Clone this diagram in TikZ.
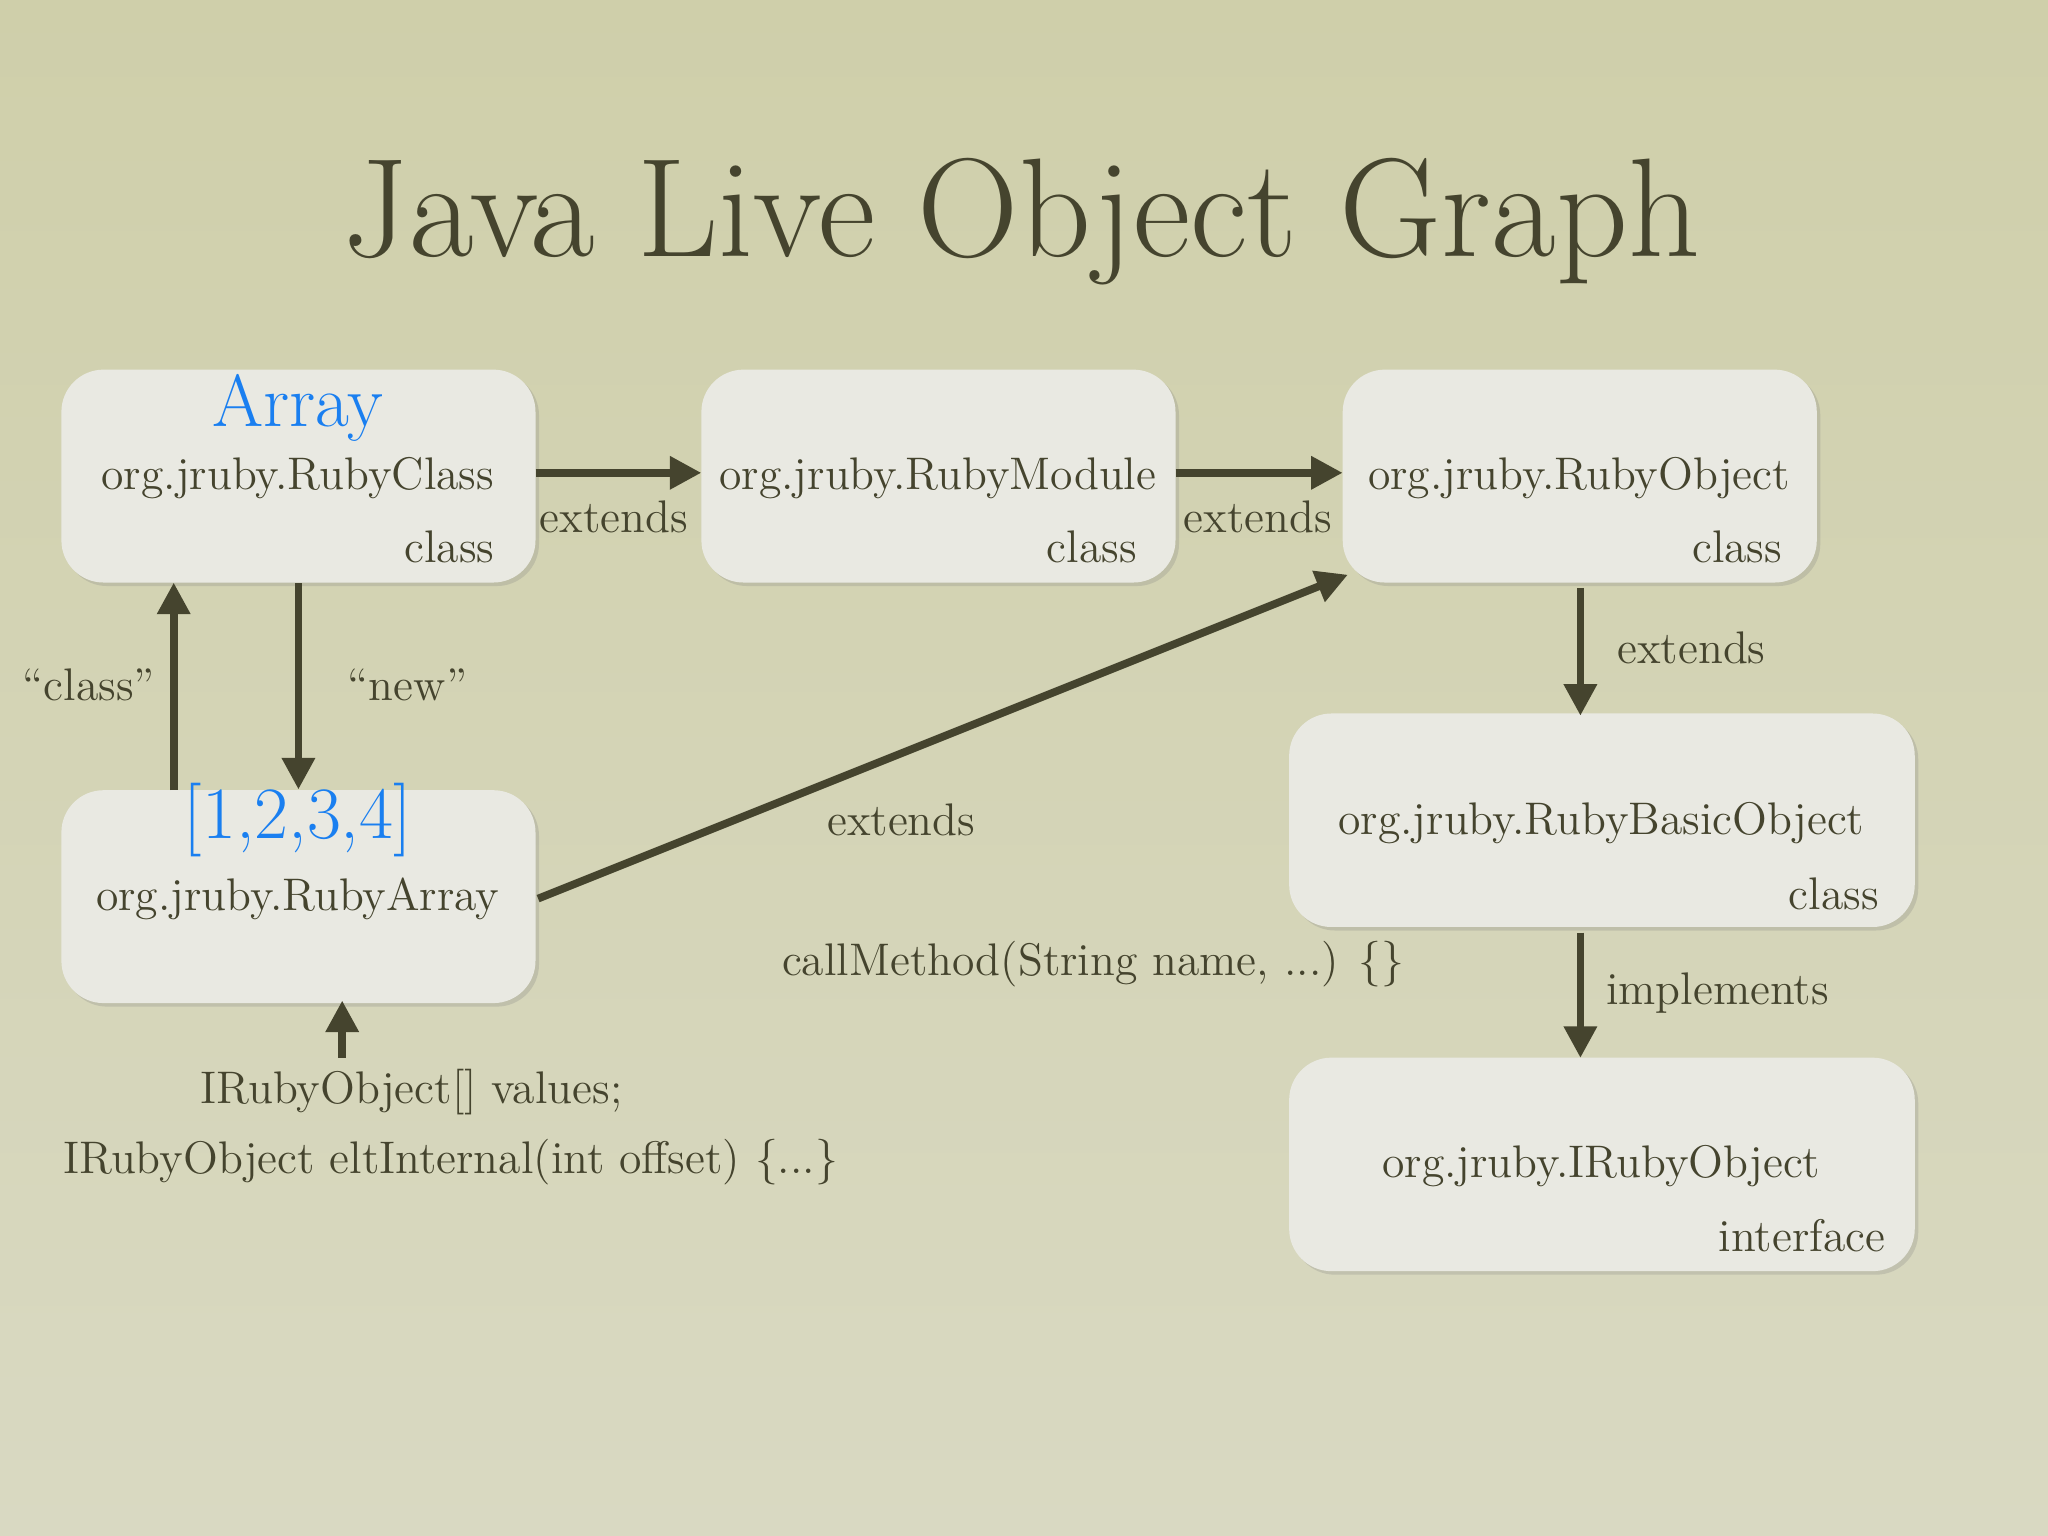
\documentclass[tikz,border=0pt]{standalone}
\usetikzlibrary{arrows.meta,shadows}
\definecolor{ink}{HTML}{45442E}
\definecolor{bgA}{HTML}{CFCFAA}
\definecolor{bgB}{HTML}{D9D9C2}
\definecolor{boxc}{HTML}{E9E9E2}
\definecolor{blu}{HTML}{1A7FF0}
\begin{document}
\begin{tikzpicture}[x=0.013061cm,y=-0.013061cm,
  box/.style={draw=none,fill=boxc,rounded corners=12pt,inner sep=0pt,drop shadow={opacity=0.25,shadow xshift=1pt,shadow yshift=-1pt}},
  sbox/.style={box,minimum width=4.741cm,minimum height=2.129cm},
  wbox/.style={box,minimum width=6.256cm,minimum height=2.135cm},
  txt/.style={text=ink,font=\fontsize{13}{15}\selectfont,inner sep=0pt},
  arr/.style={draw=ink,line width=2.2pt,-{Triangle[length=9pt,width=9pt]}}]
\useasboundingbox (0,0) rectangle (1568,1176);
\shade[top color=bgA,bottom color=bgB] (0,0) rectangle (1568,1176);
\node[txt,font=\fontsize{40}{44}\selectfont] (title) at (782,170) {Java Live Object Graph};
% boxes
\node[sbox] (cls) at (228.5,364.5) {};
\node[sbox] (mod) at (718.5,364.5) {};
\node[sbox] (obj) at (1209.5,364.5) {};
\node[sbox] (ary) at (228.5,686.5) {};
\node[wbox] (bas) at (1226.5,628) {};
\node[wbox] (iro) at (1226.5,891.5) {};
% texts
\node[txt,text=blu,font=\fontsize{21}{24}\selectfont] (t1) at (228,312) {Array};
\node[txt] (t2) at (228,366) {org.jruby.RubyClass};
\node[txt,anchor=east] (t3) at (379,419) {class};
\node[txt] (t4) at (718,366) {org.jruby.RubyModule};
\node[txt,anchor=east] (t5) at (871,419) {class};
\node[txt] (t6) at (1209,366) {org.jruby.RubyObject};
\node[txt,anchor=east] (t7) at (1365,419) {class};
\node[txt,text=blu,font=\fontsize{21}{24}\selectfont] (t8) at (228,628) {[1,2,3,4]};
\node[txt] (t9) at (228,688) {org.jruby.RubyArray};
\node[txt] (t10) at (1226,630) {org.jruby.RubyBasicObject};
\node[txt,anchor=east] (t11) at (1439,684) {class};
\node[txt] (t12) at (1226,893) {org.jruby.IRubyObject};
\node[txt,anchor=east] (t13) at (1444,946) {interface};
% labels
\node[txt] (l1) at (470,396) {extends};
\node[txt] (l2) at (963,396) {extends};
\node[txt] (l3) at (1295,496) {extends};
\node[txt] (l4) at (1315,760) {implements};
\node[txt] (l5) at (690,628) {extends};
\node[txt] (l6) at (68,524) {``class''};
\node[txt] (l7) at (312,524) {``new''};
\node[txt] (l8) at (837,738) {callMethod(String name, ...) \{\}};
\node[txt] (l9) at (315,836) {IRubyObject[] values;};
\node[txt] (l10) at (345,890) {IRubyObject eltInternal(int offset) \{...\}};
\coordinate (src) at (262,810);
% arrows
\draw[arr] (410,362) -- (537,362);
\draw[arr] (900,362) -- (1028,362);
\draw[arr] (1210,450) -- (1210,548);
\draw[arr] (1210,714) -- (1210,810);
\draw[arr] (412,688) -- (1032,440);
\draw[arr] (133,605) -- (133,446);
\draw[arr] (cls.south) -- (ary.north);
\draw[arr] (src) -- (262,766);
\end{tikzpicture}
\end{document}
